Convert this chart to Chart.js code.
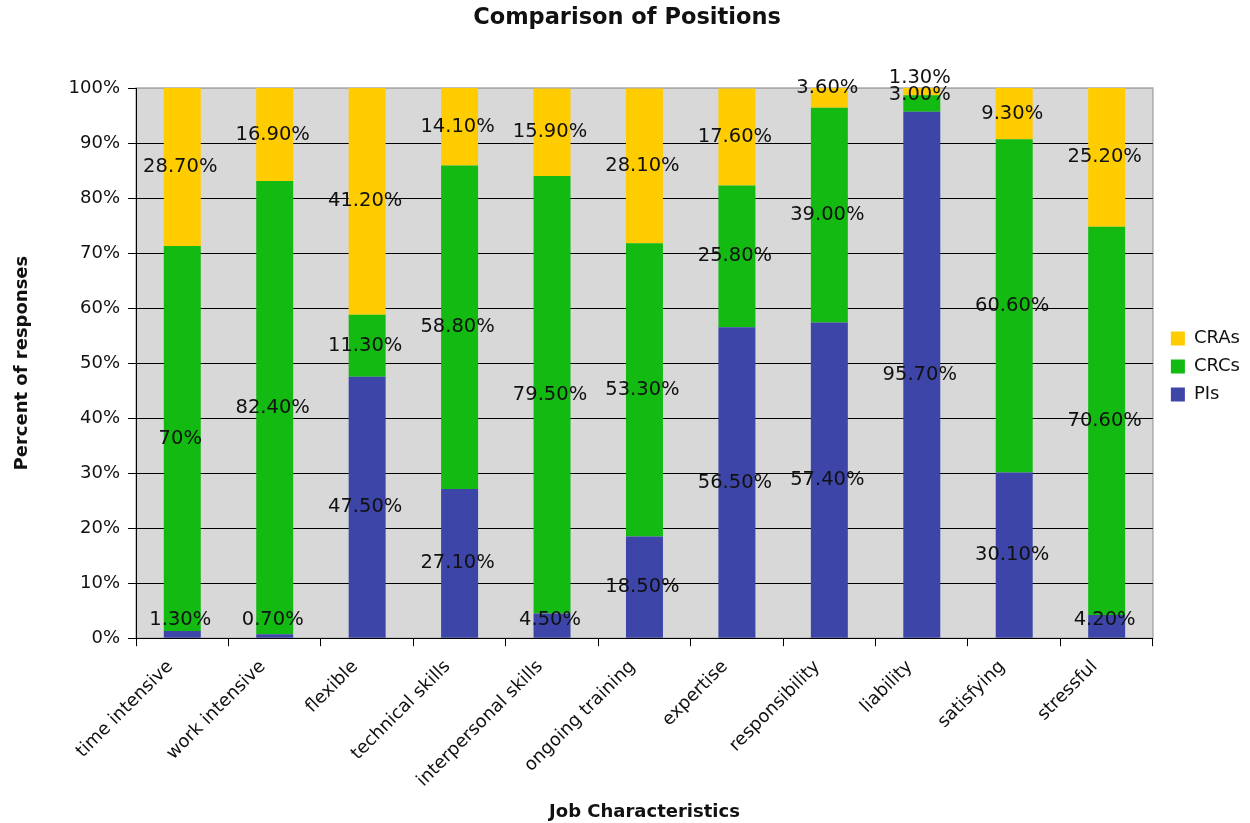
<!DOCTYPE html>
<html>
<head>
<meta charset="utf-8">
<script src="https://cdn.jsdelivr.net/npm/chart.js@4.4.1/dist/chart.umd.min.js"></script>
<style>
  body { margin: 0; background: #fff; }
  #wrap { width: 1250px; height: 823px; }
</style>
</head>
<body>
<div id="wrap"><canvas id="chart" width="1250" height="823"></canvas></div>
<script>
const categories = ['time intensive', 'work intensive', 'flexible', 'technical skills', 'interpersonal skills',
  'ongoing training', 'expertise', 'responsibility', 'liability', 'satisfying', 'stressful'];
const pis  = [1.3, 0.7, 47.5, 27.1, 4.5, 18.5, 56.5, 57.4, 95.7, 30.1, 4.2];
const crcs = [70, 82.4, 11.3, 58.8, 79.5, 53.3, 25.8, 39.0, 3.0, 60.6, 70.6];
const cras = [28.7, 16.9, 41.2, 14.1, 15.9, 28.1, 17.6, 3.6, 1.3, 9.3, 25.2];
const yTicks = [0, 10, 20, 30, 40, 50, 60, 70, 80, 90, 100];

const FONT = 'DejaVu Sans';
const INK = '#111';

// grey plot area with a light frame
const plotBg = {
  id: 'plotBg',
  afterLayout(chart) {
    // move the legend next to the middle of the plot
    chart.legend.left += 8;
    chart.legend.right += 8;
    chart.legend.top -= 47;
    chart.legend.bottom -= 47;
  },
  beforeDraw(chart) {
    const { ctx, chartArea: a } = chart;
    ctx.save();
    ctx.fillStyle = '#D8D8D8';
    ctx.fillRect(a.left, a.top, a.right - a.left, a.bottom - a.top);
    ctx.strokeStyle = '#ABABAB';
    ctx.lineWidth = 1.5;
    ctx.strokeRect(a.left, a.top, a.right - a.left, a.bottom - a.top);
    ctx.restore();
  }
};

// value labels centred on each segment, nudged when the segment is thin
const valueLabels = {
  id: 'valueLabels',
  afterDatasetsDraw(chart) {
    const { ctx, chartArea: a } = chart;
    ctx.save();
    ctx.font = '19.5px ' + FONT;
    ctx.fillStyle = INK;
    ctx.textAlign = 'center';
    ctx.textBaseline = 'middle';
    const n = chart.data.labels.length;
    for (let i = 0; i < n; i++) {
      let prevY = null;
      chart.data.datasets.forEach((ds, d) => {
        const bar = chart.getDatasetMeta(d).data[i];
        const h = bar.base - bar.y;
        let y = h < 22 ? bar.y : (bar.y + bar.base) / 2;
        y = Math.min(y, a.bottom - 18);
        if (prevY !== null && prevY - y < 17) y = prevY - 17;
        prevY = y;
        const v = ds.data[i];
        const txt = (Number.isInteger(v) && d === 1 && i === 0) ? v + '%' : v.toFixed(2) + '%';
        ctx.fillText(txt, bar.x - 2, y);
      });
    }
    ctx.restore();
  }
};

new Chart(document.getElementById('chart'), {
  type: 'bar',
  data: {
    labels: categories,
    datasets: [
      { label: 'PIs', data: pis, backgroundColor: '#3D46A8' },
      { label: 'CRCs', data: crcs, backgroundColor: '#12BA12' },
      { label: 'CRAs', data: cras, backgroundColor: '#FFCC00' }
    ]
  },
  options: {
    responsive: false,
    animation: false,
    layout: { padding: { left: 12, right: 8, top: 4, bottom: 0 } },
    datasets: { bar: { categoryPercentage: 1, barPercentage: 0.4, borderWidth: 0 } },
    plugins: {
      title: {
        display: true,
        text: 'Comparison of Positions',
        color: INK,
        font: { family: FONT, size: 22.5, weight: 'bold' },
        padding: { top: 1, bottom: 56 }
      },
      legend: {
        position: 'right',
        reverse: true,
        labels: {
          color: INK,
          font: { family: FONT, size: 18 },
          boxWidth: 14,
          boxHeight: 14,
          padding: 10
        }
      },
      tooltip: { enabled: false }
    },
    scales: {
      x: {
        stacked: true,
        grid: { offset: true, drawOnChartArea: false, color: '#000', tickLength: 8 },
        border: { color: '#000' },
        ticks: { color: INK, font: { family: FONT, size: 18 }, maxRotation: 45, minRotation: 45, padding: 10, labelOffset: -12 },
        title: {
          display: true,
          text: 'Job Characteristics',
          color: INK,
          font: { family: FONT, size: 18, weight: 'bold' },
          padding: { top: 0, bottom: 0 }
        }
      },
      y: {
        stacked: true,
        min: 0,
        max: 100,
        afterBuildTicks(scale) { scale.ticks = yTicks.map(v => ({ value: v })); },
        grid: {
          color: c => (c.tick && c.tick.value === 100) ? '#ABABAB' : '#000',
          tickColor: '#000',
          tickLength: 8
        },
        border: { color: '#000' },
        ticks: { color: INK, font: { family: FONT, size: 18 }, padding: 8, callback: v => v + '%' },
        title: {
          display: true,
          text: 'Percent of responses',
          color: INK,
          font: { family: FONT, size: 18, weight: 'bold' },
          padding: { top: 0, bottom: 27 }
        }
      }
    }
  },
  plugins: [plotBg, valueLabels]
});
</script>
</body>
</html>
